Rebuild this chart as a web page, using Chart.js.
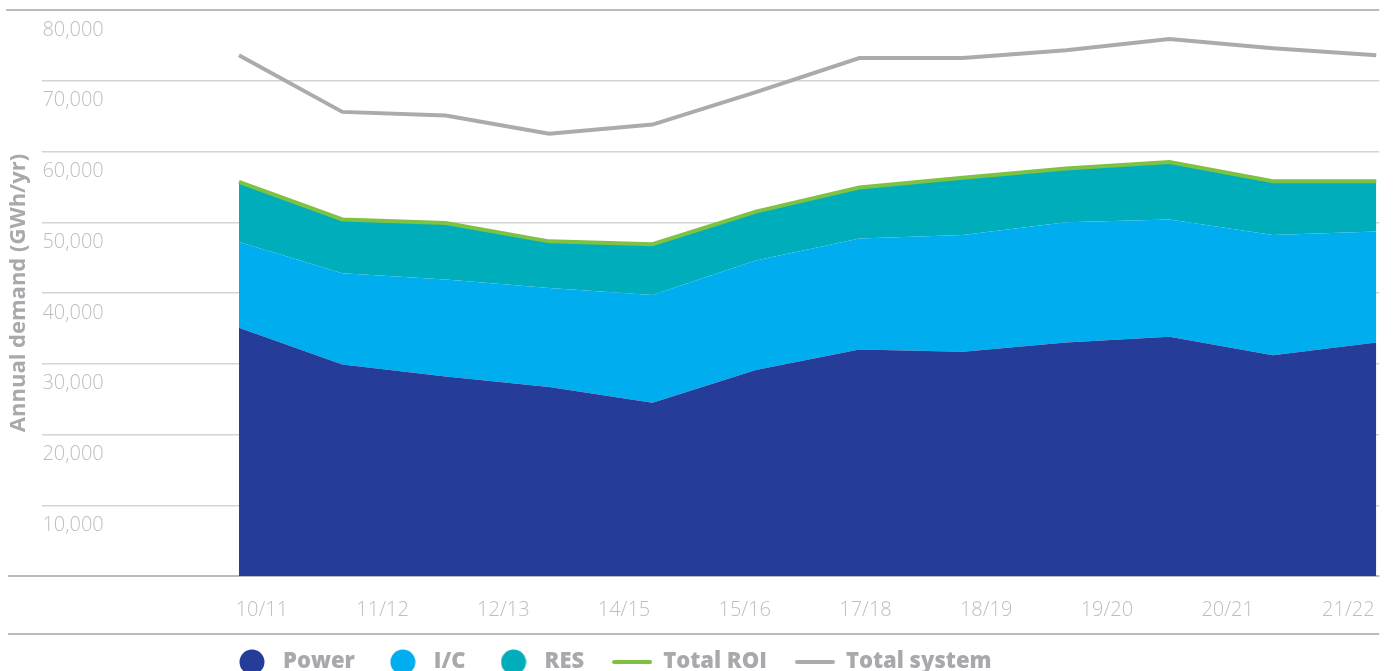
<!DOCTYPE html>
<html>
<head>
<meta charset="utf-8">
<script src="https://cdn.jsdelivr.net/npm/chart.js@4.4.1/dist/chart.umd.min.js"></script>
<style>
    html, body { margin: 0; padding: 0; background: #fff; overflow: hidden; }
    #wrap { position: relative; width: 1397px; height: 704px; }
</style>
</head>
<body>
<div id="wrap"><canvas id="demandChart"></canvas></div>
<script>
// Libellés des années (axe X affiché)
const periodLabels = ['10/11', '11/12', '12/13', '14/15', '15/16', '17/18', '18/19', '19/20', '20/21', '21/22'];

// Séries (GWh/an), 12 points chacune
const power          = [35100, 29900, 28200, 26700, 24500, 29100, 32000, 31700, 33000, 33800, 31200, 33000];
const interconnector = [12100, 12900, 13700, 14000, 15200, 15500, 15700, 16500, 17000, 16600, 17000, 15700];
const renewables     = [ 8500,  7600,  8000,  6600,  7200,  6900,  7200,  8100,  7600,  8100,  7600,  7100];
const totalRoi       = [55700, 50400, 49900, 47300, 46900, 51500, 54900, 56300, 57600, 58500, 55800, 55800];
const totalSystem    = [73600, 65600, 65100, 62500, 63800, 68400, 73200, 73200, 74300, 75900, 74600, 73600];

// Couleurs
const colors = {
    power: '#253c98',
    ic: '#00aeef',
    res: '#00adbb',
    roi: '#7dc242',
    system: '#a9abad',
    grid: '#d3d4d5',
    frame: '#b9babc',
    tick: '#bcbec0',
    label: '#a7a9ac'
};

const FONT = '"Open Sans", "Noto Sans", sans-serif';

function toPoints(values) {
    return values.map((v, i) => ({ x: i, y: v }));
}

// Petits marqueurs pour la légende
function circleMarker(color) {
    const c = document.createElement('canvas');
    c.width = 26; c.height = 26;
    const g = c.getContext('2d');
    g.fillStyle = color;
    g.beginPath();
    g.arc(13, 13, 12.5, 0, Math.PI * 2);
    g.fill();
    return c;
}

function lineMarker(color) {
    const c = document.createElement('canvas');
    c.width = 40; c.height = 6;
    const g = c.getContext('2d');
    g.strokeStyle = color;
    g.lineWidth = 4;
    g.lineCap = 'round';
    g.beginPath();
    g.moveTo(2, 3);
    g.lineTo(38, 3);
    g.stroke();
    return c;
}

// Lignes de cadre (haut, base, sous les libellés X)
const frameLines = {
    id: 'frameLines',
    beforeDatasetsDraw(chart) {
        const { ctx, chartArea, scales } = chart;
        ctx.save();
        ctx.strokeStyle = colors.frame;
        ctx.lineWidth = 2;
        const rows = [
            [scales.y.getPixelForValue(80000), 6],
            [scales.y.getPixelForValue(0), 8],
            [scales.y.getPixelForValue(0) + 58, 8]
        ];
        rows.forEach(([y, x0]) => {
            ctx.beginPath();
            ctx.moveTo(x0, y);
            ctx.lineTo(chartArea.right, y);
            ctx.stroke();
        });
        ctx.restore();
    }
};

// Place la légende sous la zone des données, juste après les libellés X
const LEGEND_START = 232;
const LEGEND_RAISE = 21;
const legendShift = {
    id: 'legendShift',
    afterLayout(chart) {
        const lg = chart.legend;
        if (!lg) return;
        const w = lg.right - lg.left;
        lg.left = LEGEND_START - lg.options.labels.padding;
        lg.right = lg.left + w;
        lg.top -= LEGEND_RAISE;
        lg.bottom -= LEGEND_RAISE;
    }
};

new Chart(document.getElementById('demandChart'), {
    type: 'line',
    data: {
        datasets: [
            {
                label: 'Power', data: toPoints(power), stack: 'roi',
                backgroundColor: colors.power, borderColor: 'transparent', borderWidth: 0,
                fill: 'origin', pointRadius: 0, pointStyle: circleMarker(colors.power), order: 2
            },
            {
                label: 'I/C', data: toPoints(interconnector), stack: 'roi',
                backgroundColor: colors.ic, borderColor: 'transparent', borderWidth: 0,
                fill: '-1', pointRadius: 0, pointStyle: circleMarker(colors.ic), order: 3
            },
            {
                label: 'RES', data: toPoints(renewables), stack: 'roi',
                backgroundColor: colors.res, borderColor: 'transparent', borderWidth: 0,
                fill: '-1', pointRadius: 0, pointStyle: circleMarker(colors.res), order: 4
            },
            {
                label: 'Total ROI', data: toPoints(totalRoi), stack: 'roiTotal',
                borderColor: colors.roi, borderWidth: 4, fill: false,
                pointRadius: 0, pointStyle: lineMarker(colors.roi), order: 1
            },
            {
                label: 'Total system', data: toPoints(totalSystem), stack: 'system',
                borderColor: colors.system, borderWidth: 4, fill: false,
                pointRadius: 0, pointStyle: lineMarker(colors.system), order: 0
            }
        ]
    },
    options: {
        responsive: true,
        maintainAspectRatio: false,
        animation: false,
        layout: { padding: { left: 2, right: 14, top: 10, bottom: 0 } },
        elements: { line: { tension: 0 } },
        scales: {
            x: {
                type: 'linear',
                display: false,
                min: -1.901,
                max: 11.029
            },
            x2: {
                type: 'linear',
                position: 'bottom',
                min: -1.818,
                max: 9.256,
                afterBuildTicks: (scale) => {
                    scale.ticks = periodLabels.map((_, i) => ({ value: i }));
                },
                grid: { display: false, drawTicks: false },
                border: { display: false },
                ticks: {
                    autoSkip: false,
                    maxRotation: 0,
                    padding: 22,
                    color: colors.tick,
                    font: { family: FONT, size: 20, weight: '300' },
                    callback: (value) => periodLabels[value] || ''
                }
            },
            y: {
                stacked: true,
                min: 0,
                max: 80000,
                border: { display: false },
                grid: { color: colors.grid, lineWidth: 1.5, drawTicks: false },
                ticks: {
                    stepSize: 10000,
                    mirror: true,
                    padding: 0,
                    labelOffset: 20,
                    color: colors.tick,
                    font: { family: FONT, size: 20, weight: '300', lineHeight: 0.8 },
                    callback: (value) => value === 0 ? '' : value.toLocaleString('en-US')
                },
                title: {
                    display: true,
                    text: 'Annual demand (GWh/yr)',
                    color: colors.label,
                    padding: { top: 4, bottom: 10 },
                    font: { family: FONT, size: 22, weight: 'bold' }
                }
            }
        },
        plugins: {
            legend: {
                position: 'bottom',
                align: 'start',
                labels: {
                    usePointStyle: true,
                    pointStyleWidth: 40,
                    padding: 28,
                    color: colors.label,
                    font: { family: FONT, size: 22, weight: '800' },
                    sort: (a, b) => a.datasetIndex - b.datasetIndex
                }
            },
            tooltip: { enabled: false }
        }
    },
    plugins: [frameLines, legendShift]
});
</script>
</body>
</html>
